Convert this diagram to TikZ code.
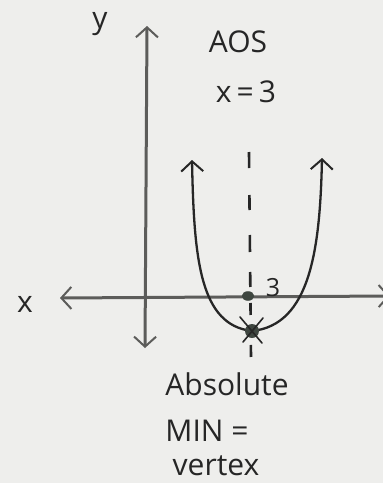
\documentclass[tikz,border=0pt]{standalone}
\usepackage{fontspec}
\setmainfont{Open Sans}
\usetikzlibrary{arrows.meta,shapes.geometric}
\definecolor{paper}{HTML}{EEEEEC}
\definecolor{ink}{HTML}{262626}
\definecolor{axisgray}{HTML}{5C5C5A}
\definecolor{dotgray}{HTML}{3E4640}
\begin{document}
\begin{tikzpicture}[x=1pt,y=-1pt,
  ink line/.style={draw=ink,line width=2.3pt,line cap=round},
  axis/.style={draw=axisgray,line width=3pt,line cap=round},
  barb/.tip={Straight Barb[length=10pt,width=22pt,line width=2pt]},
  lbl/.style={text=ink,inner sep=0pt,font=\fontsize{30}{34}\selectfont},
  small lbl/.style={text=ink,inner sep=0pt,font=\fontsize{25}{28}\selectfont}]
\fill[paper] (0,0) rectangle (383,483);
\useasboundingbox (0,0) rectangle (383,483);
% axes
\coordinate (ytop) at (147,26);
\coordinate (ybot) at (145,348);
\coordinate (xl) at (60,298);
\coordinate (xr) at (390,296);
\draw[axis,barb-barb] (ybot) -- (ytop);
\draw[axis,barb-barb] (xl) -- (xr);
\node[lbl] (ylab) at (100,24) {y};
\node[lbl] (xlab) at (25,304) {x};
% axis of symmetry
\coordinate (aostop) at (249,152);
\coordinate (aosbot) at (251,357);
\draw[ink line,line width=2.6pt,line cap=butt,
  dash pattern=on 16pt off 27pt on 15pt off 25pt on 17pt off 20pt on 15pt off 16pt on 12pt off 30pt on 12pt off 50pt]
  (aostop) -- (aosbot);
\node[lbl] (aos) at (238,42) {AOS};
\node[lbl] (eq) at (246,92) {x\,=\,3};
% point at x=3
\node[draw=dotgray,fill=dotgray,ellipse,minimum width=12pt,minimum height=9pt,inner sep=0pt] (three) at (248,296) {};
\node[small lbl] (threelab) at (273,288) {3};
% parabola
\coordinate (ltop) at (192,160);
\coordinate (rtop) at (322,158);
\coordinate (vtx) at (252,331);
\draw[ink line,barb-] (ltop) .. controls (194,260) and (200,325) .. (vtx);
\draw[ink line,-barb] (vtx) .. controls (310,325) and (320,250) .. (rtop);
% vertex
\node[fill=dotgray,circle,minimum size=14pt,inner sep=0pt] (v) at (vtx) {};
\draw[ink line,line width=1.6pt] (240,317) -- (262,343);
\draw[ink line,line width=1.6pt] (263,318) -- (243,342);
% labels below
\node[lbl] (abs) at (227,384) {Absolute};
\node[lbl] (min) at (207,431) {MIN =};
\node[lbl] (vert) at (216,466) {vertex};
\end{tikzpicture}
\end{document}
